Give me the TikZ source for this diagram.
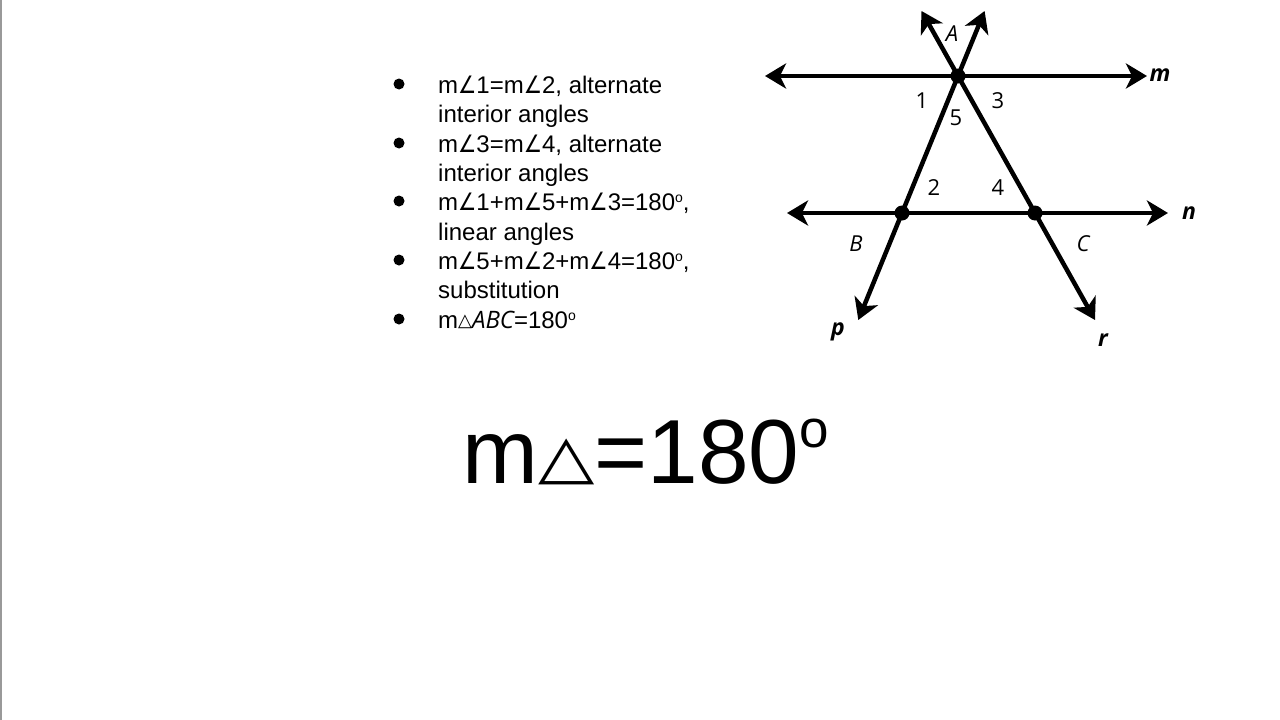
\documentclass[tikz,border=0pt]{standalone}
\usepackage{fontspec}
\usepackage{graphicx}
\setmainfont{Liberation Sans}
\newfontfamily\dejavu{DejaVu Sans}
\newfontfamily\osans{Open Sans}
\usetikzlibrary{arrows.meta}
\newcommand{\myang}{{\dejavu\scalebox{0.85}[1]{∠}}}
\newcommand{\mydeg}{\raisebox{7.5pt}{\fontsize{14}{14}\selectfont o}}
\begin{document}
\begin{tikzpicture}[x=1pt,y=-1pt,
  tip/.tip={Stealth[length=21pt,width=25pt,inset=6pt]},
  geo/.style={line width=4.5pt,tip-tip},
  dotpt/.style={circle,fill=black,inner sep=0pt,minimum size=15pt},
  lbl/.style={font=\osans\fontsize{22}{22}\selectfont,inner sep=0pt},
  ilbl/.style={font=\osans\itshape\fontsize{22}{22}\selectfont,inner sep=0pt},
  lname/.style={font=\osans\bfseries\itshape\fontsize{23}{23}\selectfont,inner sep=0pt},
  btxt/.style={anchor=base west,inner sep=0pt,font=\fontsize{24}{24}\selectfont},
  bul/.style={circle,fill=black,inner sep=0pt,minimum size=11pt}
]
\useasboundingbox (0,0) rectangle (1280,720);
\fill[white] (0,0) rectangle (1280,720);
\draw[gray!80,line width=2pt] (1,0) -- (1,720);

% bullet list
\foreach \y [count=\i] in {84,143,201,260,319} \node[bul] (b\i) at (399,\y) {};
\node[btxt] (l1) at (438,93) {m\myang1=m\myang2, alternate};
\node[btxt] (l2) at (438,122) {interior angles};
\node[btxt] (l3) at (438,152) {m\myang3=m\myang4, alternate};
\node[btxt] (l4) at (438,181) {interior angles};
\node[btxt] (l5) at (438,210) {m\myang1+m\myang5+m\myang3=180\mydeg,};
\node[btxt] (l6) at (438,240) {linear angles};
\node[btxt] (l7) at (438,269) {m\myang5+m\myang2+m\myang4=180\mydeg,};
\node[btxt] (l8) at (438,298) {substitution};
\node[btxt] (l9) at (438,328) {m\raisebox{2pt}{\dejavu\fontsize{18}{18}\selectfont △}{\osans\itshape ABC}=180\mydeg};

% big text
\node[anchor=base west,inner sep=0pt,font=\fontsize{91}{91}\selectfont] (big) at (462,483)
  {m\raisebox{6pt}{\dejavu\fontsize{60}{60}\selectfont\scalebox{1.22}[1]{△}}=180\raisebox{36pt}{\fontsize{53}{53}\selectfont o}};

% geometry
\coordinate (A) at (958,76);
\coordinate (B) at (902,213);
\coordinate (C) at (1035,213);
\coordinate (mL) at (765,76);
\coordinate (mR) at (1147,76);
\coordinate (nL) at (787,213);
\coordinate (nR) at (1168,213);
\coordinate (pT) at (984.6,11);
\coordinate (pB) at (858.3,320);
\coordinate (rT) at (921.5,11);
\coordinate (rB) at (1095,320);

\draw[geo] (mL) -- (A) -- (mR);
\draw[geo] (nL) -- (B) -- (C) -- (nR);
\draw[geo] (pB) -- (B) -- (A) -- (pT);
\draw[geo] (rB) -- (C) -- (A) -- (rT);

\node[dotpt] (Ad) at (A) {};
\node[dotpt] (Bd) at (B) {};
\node[dotpt] (Cd) at (C) {};

\node[ilbl] (Al) at (952,34) {A};
\node[ilbl] (Bl) at (856,244) {B};
\node[ilbl] (Cl) at (1083,244) {C};
\node[lbl] (a1) at (922,101) {1};
\node[lbl] (a5) at (956,118) {5};
\node[lbl] (a3) at (998,101) {3};
\node[lbl] (a2) at (934,188) {2};
\node[lbl] (a4) at (998,188) {4};
\node[lname] (lm) at (1160,75) {m};
\node[lname] (ln) at (1189,213) {n};
\node[lname] (lp) at (838,332) {p};
\node[lname] (lr) at (1103,340) {r};
\end{tikzpicture}
\end{document}
